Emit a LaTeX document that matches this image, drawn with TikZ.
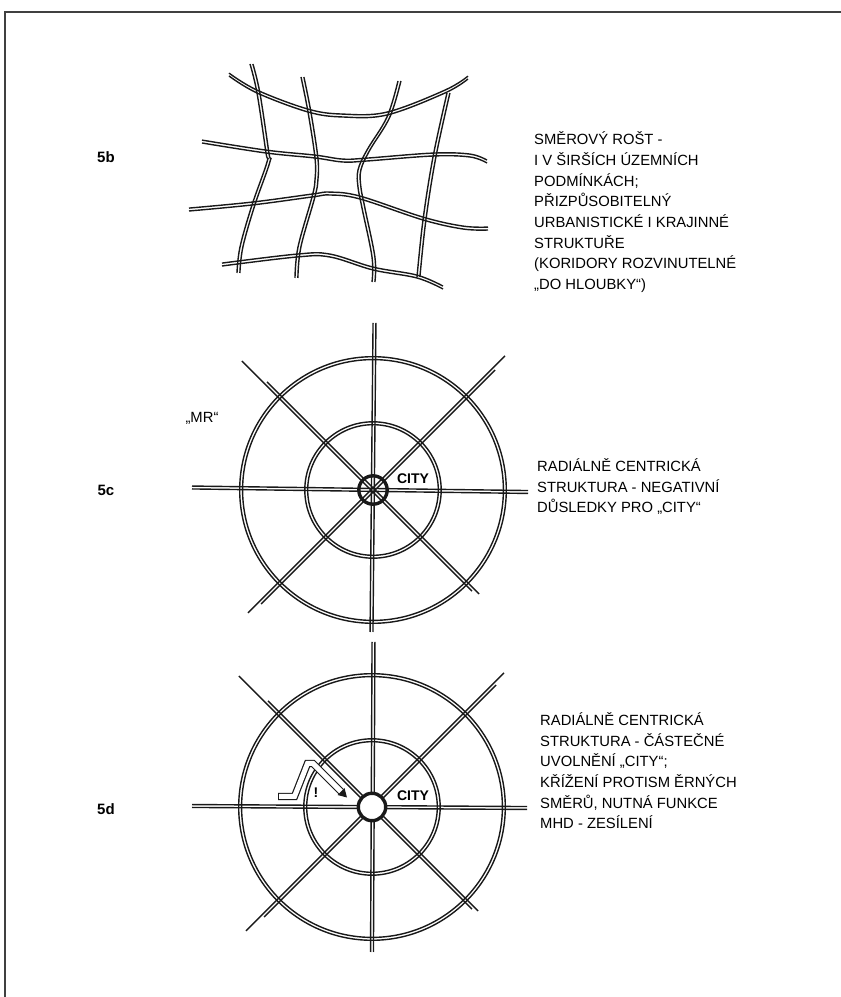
\documentclass[tikz,border=0pt]{standalone}
\usepackage{fontspec}
\setmainfont{Liberation Sans}
\usepackage{tikz}

\begin{document}
\begin{tikzpicture}[
    x=1pt, y=1pt,
    edgeline/.style={draw=black!75, line width=1.3pt},
    rail/.style={draw=black!90, line width=1.4pt},
    hroad/.style={rail, preaction={draw=black!90, line width=1.4pt, transform canvas={yshift=2.9pt}}},
    vroad/.style={rail, preaction={draw=black!90, line width=1.4pt, transform canvas={xshift=2.9pt}}},
    hub/.style={draw=black!90, line width=3.4pt},
    tag/.style={font=\fontsize{15}{18}\selectfont\bfseries, inner sep=0pt},
    note/.style={anchor=north west, align=left, inner sep=0pt, font=\fontsize{14.8}{20.7}\selectfont},
    city/.style={font=\fontsize{14}{16}\selectfont\bfseries, inner sep=0pt},
    pointer/.style={draw=black!90, double=white, double distance=5pt, line width=1.2pt, line join=miter}
]
    \useasboundingbox (0,0) rectangle (841,997);

    % Page edge
    \draw[edgeline] (5,0) -- (5,985) -- (841,985);

    % Labels
    \node[tag] (lab5b) at (106,840) {5b};
    \node[tag] (lab5c) at (106,507) {5c};
    \node[tag] (lab5d) at (106,188) {5d};

    % Notes
    \node[note] (note5b) at (534,867.4) {\rule{0pt}{15pt}SMĚROVÝ ROŠT -\\I V ŠIRŠÍCH ÚZEMNÍCH\\PODMÍNKÁCH;\\PŘIZPŮSOBITELNÝ\\URBANISTICKÉ I KRAJINNÉ\\STRUKTUŘE\\(KORIDORY ROZVINUTELNÉ\\„DO HLOUBKY“)};
    \node[note] (note5c) at (537,540.7) {\rule{0pt}{15pt}RADIÁLNĚ CENTRICKÁ\\STRUKTURA - NEGATIVNÍ\\DŮSLEDKY PRO „CITY“};
    \node[note] (note5d) at (540,286.7) {\rule{0pt}{15pt}RADIÁLNĚ CENTRICKÁ\\STRUKTURA - ČÁSTEČNÉ\\UVOLNĚNÍ „CITY“;\\KŘÍŽENÍ PROTISM ĚRNÝCH\\SMĚRŮ, NUTNÁ FUNKCE\\MHD - ZESÍLENÍ};
    \node[font=\fontsize{14.8}{17}\selectfont, inner sep=0pt] (mr) at (202,579) {„MR“};

    % Grid 5b
    \draw[hroad] plot[smooth, tension=0.6] coordinates {(229,921) (257,904) (308,885) (343,880) (387,882) (445,904) (468,918)};
    \draw[hroad] plot[smooth, tension=0.6] coordinates {(202,854) (266,844) (315,839) (343,835) (367,836) (433,841) (470,840) (487,834)};
    \draw[hroad] plot[smooth, tension=0.6] coordinates {(189,786) (252,792) (312,800) (330,802) (360,798) (423,777) (463,768) (488,767)};
    \draw[hroad] plot[smooth, tension=0.6] coordinates {(222,731) (297,740) (330,740) (373,727) (417,719) (443,708)};
    \draw[vroad] plot[smooth, tension=0.6] coordinates {(250,933) (257,904) (266,844) (267,835) (252,792) (240,750) (237,724)};
    \draw[vroad] plot[smooth, tension=0.6] coordinates {(301,920) (308,885) (315,839) (315,817) (312,800) (298,750) (295,719)};
    \draw[vroad] plot[smooth, tension=0.6] coordinates {(398,916) (387,880) (367,847) (358,827) (358,810) (362,789) (372,740) (372,715)};
    \draw[vroad] plot[smooth, tension=0.6] coordinates {(447,904) (433,840) (423,777) (417,720)};

    % Radial structure 5c
    \begin{scope}[shift={(373,507)}]
        \draw[rail] (0,0) circle[radius=133.3];
        \draw[rail] (0,0) circle[radius=130.4];
        \draw[rail] (0,0) circle[radius=68.2];
        \draw[rail] (0,0) circle[radius=65.3];
        \draw[rail] (-181,3.95) -- (155,-0.55);
        \draw[rail] (-181,1.05) -- (155,-3.45);
        \draw[rail] (2.95,167) -- (-0.05,-142);
        \draw[rail] (0.05,167) -- (-2.95,-142);
        \draw[rail, xshift=-1.03pt, yshift=-1.03pt] (-130,130) -- (100,-100);
        \draw[rail, xshift=1.03pt, yshift=1.03pt] (-107,107) -- (105,-105);
        \draw[rail, xshift=-1.03pt, yshift=1.03pt] (-124,-124) -- (133,133);
        \draw[rail, xshift=1.03pt, yshift=-1.03pt] (-113,-113) -- (121,121);
        \draw[hub] (0,0) circle[radius=14.2];
        \node[city] (city5c) at (40,11) {CITY};
    \end{scope}

    % Radial structure 5d
    \begin{scope}[shift={(372,190)}]
        \draw[rail] (0,0) circle[radius=133.3];
        \draw[rail] (0,0) circle[radius=130.4];
        \draw[rail] (0,0) circle[radius=68.2];
        \draw[rail] (0,0) circle[radius=65.3];
        \draw[rail] (-180,2.45) -- (155,0.45);
        \draw[rail] (-180,-0.45) -- (155,-2.45);
        \draw[rail] (2.95,165) -- (1.45,-145);
        \draw[rail] (0.05,165) -- (-1.45,-145);
        \draw[rail, xshift=-1.03pt, yshift=-1.03pt] (-132,132) -- (101,-101);
        \draw[rail, xshift=1.03pt, yshift=1.03pt] (-105,105) -- (105,-105);
        \draw[rail, xshift=-1.03pt, yshift=1.03pt] (-125,-125) -- (133,133);
        \draw[rail, xshift=1.03pt, yshift=-1.03pt] (-109,-109) -- (123,123);
        \draw[hub, fill=white] (0,0) circle[radius=13.7];
        \node[city] (city5d) at (41,11) {CITY};
        % Pointer
        \draw[pointer] (-94,10.5) -- (-77.5,10.5) -- (-64.5,43.5) -- (-59,43.5) -- (-31,15.5);
        \draw[draw=black!90, line width=1.2pt] (-93.4,14.2) -- (-93.4,6.8);
        \fill[black!90] (-27.5,19) -- (-25,9.5) -- (-34.5,12) -- cycle;
        \node[city] (warn) at (-56,14) {!};
    \end{scope}

\end{tikzpicture}
\end{document}
